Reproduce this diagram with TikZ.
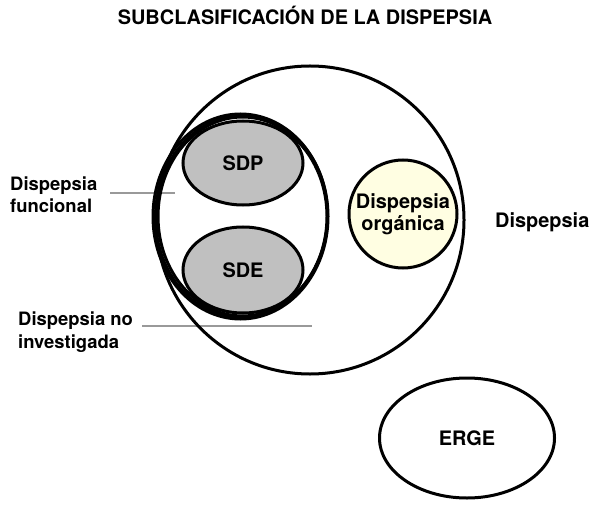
\documentclass[tikz,border=0pt]{standalone}
\usepackage{fontspec}
\setmainfont{TeX Gyre Heros}
\usetikzlibrary{shapes.geometric}
\definecolor{sdgray}{HTML}{C0C0C0}
\definecolor{orgfill}{HTML}{FFFEE2}
\definecolor{lngray}{HTML}{999999}
\begin{document}
\begin{tikzpicture}[x=1bp,y=-1bp,
  lbl/.style={font=\bfseries\fontsize{20}{22.5}\selectfont, inner sep=0pt},
  sidelbl/.style={font=\bfseries\fontsize{18.5}{22.5}\selectfont, inner sep=0pt, anchor=west, align=left},
  blk/.style={draw=black, line width=3bp, inner sep=0pt},
  oval/.style={blk, shape=ellipse},
  pointer/.style={draw=lngray, line width=2bp}]
\useasboundingbox (0,0) rectangle (595,510);

% title
\node[lbl, anchor=base] (title) at (305,25) {SUBCLASIFICACIÓN DE LA DISPEPSIA};

% gray pointer lines
\coordinate (pf1) at (110,193);
\coordinate (pf2) at (175,193);
\coordinate (pn1) at (142,326);
\coordinate (pn2) at (312,326);
\draw[pointer] (pf1) -- (pf2);
\draw[pointer] (pn1) -- (pn2);

% big circle: Dispepsia
\node[blk, shape=circle, minimum size=308bp] (disp) at (310,220) {};

% functional dyspepsia ellipses (overlapping outlines)
\node[oval, minimum width=175bp, minimum height=205bp] (fun1) at (240.5,216.5) {};
\node[oval, minimum width=169bp, minimum height=199bp] (fun2) at (242.5,216.5) {};
\node[oval, minimum width=172bp, minimum height=202bp, rotate=-2] (fun3) at (241.5,216.5) {};

% SDP / SDE
\node[oval, fill=sdgray, minimum width=120bp, minimum height=84bp, lbl] (sdp) at (243,163) {SDP};
\node[oval, fill=sdgray, minimum width=120bp, minimum height=86bp, lbl] (sde) at (243,270) {SDE};

% organic dyspepsia
\node[blk, shape=circle, fill=orgfill, minimum size=108bp, lbl, align=center] (org) at (403,214) {Dispepsia\\orgánica};

% ERGE
\node[oval, minimum width=175bp, minimum height=120bp, lbl] (erge) at (467,438) {ERGE};

% labels
\node[lbl, anchor=west] (ldisp) at (495,222) {Dispepsia};
\node[sidelbl] (lfun) at (10,195) {Dispepsia\\funcional};
\node[sidelbl] (lnoi) at (18,332) {Dispepsia no\\investigada};
\end{tikzpicture}
\end{document}
